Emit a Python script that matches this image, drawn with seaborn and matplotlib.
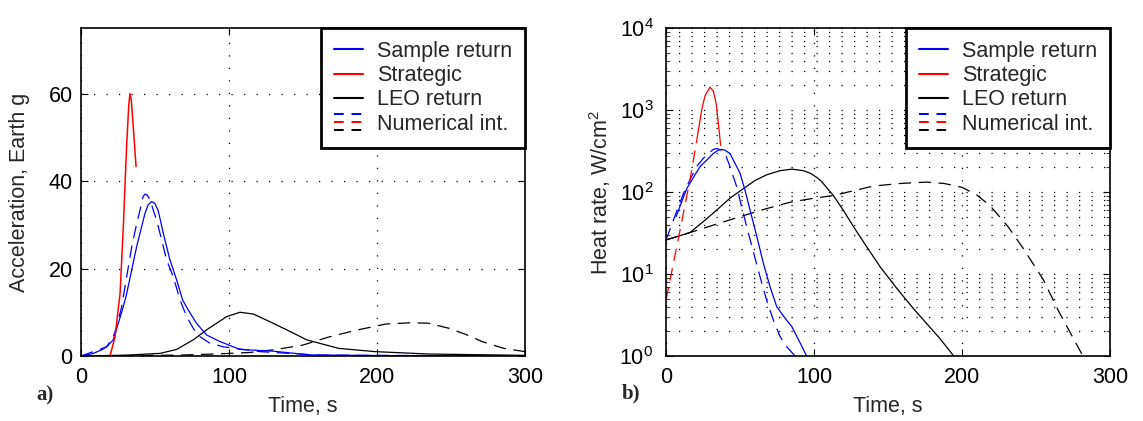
import matplotlib
matplotlib.use('Agg')
import matplotlib.pyplot as plt
from matplotlib.lines import Line2D
from matplotlib.legend_handler import HandlerBase
from matplotlib.ticker import LogLocator, NullFormatter
import seaborn as sns

#%% Data

# a) acceleration, Earth g
acc_sample_t = [0, 8.3, 14, 17.3, 21.8, 25.2, 28.6, 30.9, 34.2, 37.6, 41, 43.2, 45.4, 47.7, 49.9,
                52.2, 55.5, 60, 64.6, 68.7, 72.5, 78, 84.9, 93.9, 107.4, 130, 154.7, 200, 300]
acc_sample_v = [0, 0.6, 1.4, 2.1, 3.7, 7.5, 11.3, 14.3, 19.6, 25, 29.6, 32.6, 34.6, 35.3, 34.9,
                33.2, 28.2, 22.1, 17.4, 12.8, 10.5, 7.5, 4.8, 3.3, 1.5, 1.1, 0.25, 0.1, 0]
acc_sample_num_t = [0, 17.3, 21.8, 24.1, 27.5, 29.7, 32, 34.3, 37.2, 39.9, 42, 43.2, 44.8, 46.6,
                    48.8, 51.1, 54.5, 57.9, 62.4, 66.9, 71.4, 75.9, 80.4, 87.2, 96.2, 121, 160, 300]
acc_sample_num_v = [0, 2.1, 4.4, 6.7, 11.3, 15.8, 20.4, 25, 29.6, 33.4, 36.5, 37.0, 36.8, 35.7,
                    33.4, 31.1, 26.5, 21.9, 18.1, 12.8, 9.0, 6.3, 4.4, 2.9, 2.1, 1.0, 0.2, 0]
acc_strat_t = [19.6, 23, 26.4, 28.6, 30.9, 32.3, 33.1, 34.0, 35.4, 37.2]
acc_strat_v = [0, 4.4, 14.3, 29.6, 48.6, 57.5, 60, 58.5, 52, 43.3]
acc_leo_t = [0, 30.9, 53.4, 64.6, 75.9, 84.9, 91.7, 98.4, 107.4, 116.4, 125.4, 138.9, 152.5,
             174, 198.6, 235, 300]
acc_leo_v = [0, 0.2, 0.6, 1.5, 3.7, 6.0, 7.5, 9.0, 10.0, 9.6, 8.2, 6.0, 3.7,
             1.75, 1.0, 0.45, 0.15]
acc_leo_num_t = [0, 65.7, 90, 114, 132, 150, 167, 186, 205.8, 222.7, 234.7, 249, 261, 271, 285.6, 300]
acc_leo_num_v = [0, 0.2, 0.45, 0.8, 1.5, 2.5, 4.3, 5.9, 7.3, 7.6, 7.5, 6.3, 4.8, 3.3, 1.75, 1.0]

# b) heat rate, W/cm^2
heat_sample_t = [6.8, 10.6, 14, 18.5, 23, 27.5, 32, 35.4, 37.6, 40, 43.2, 46.6, 50, 53.4, 56.8,
                 61.3, 65.8, 70.3, 74.8, 80.4, 84.9, 89.4, 95]
heat_sample_v = [50, 76, 110, 150, 204, 245, 295, 324, 331, 322, 295, 224, 170, 105, 60,
                 29, 13.5, 7, 4.0, 2.9, 2.3, 1.6, 1.0]
heat_sample_num_t = [0, 2.7, 7.2, 11.7, 16.2, 20.7, 25.2, 28.6, 32, 34.2, 37.6, 39.9, 43.2, 47.7,
                     51.1, 54.5, 59, 63.5, 68, 72.5, 77, 81.5, 87.2]
heat_sample_num_v = [26, 35, 58, 95, 141, 204, 257, 295, 331, 339, 324, 295, 204, 117,
                     66, 38, 18.7, 9.3, 4.8, 2.75, 1.74, 1.3, 1.0]
heat_strat_t = [21.8, 24.1, 26.4, 29.7, 32, 33.8, 35.4, 36.9]
heat_strat_v = [550, 1000, 1500, 1900, 1700, 1230, 690, 370]
heat_strat_num_t = [0, 5.5, 11, 16.5, 21.8]
heat_strat_num_v = [4.8, 15, 47, 150, 550]
heat_leo_t = [0, 16.2, 25.2, 34.2, 43.2, 52.3, 60.1, 68, 77, 85, 92.8, 97.3, 101.8, 105, 108.6,
              113, 119.8, 126.6, 135.6, 144.6, 155.9, 167.1, 176, 185, 194.4]
heat_leo_v = [26, 32, 43.6, 60, 84, 110, 138, 162, 182, 190, 182, 170, 151, 135, 113,
              91, 60, 38, 21.5, 12.3, 6.7, 3.8, 2.5, 1.64, 1.0]
heat_leo_num_t = [0, 16.2, 33, 50, 67, 83.8, 100, 114, 127, 140, 158, 176, 188, 200, 210,
                  219, 231, 241, 255, 265, 274, 281.7]
heat_leo_num_v = [26, 32, 40, 50, 62, 75, 84, 91, 104, 118, 127, 132, 127, 114, 92,
                  68, 38, 21, 8.5, 3.6, 1.8, 1.0]

legend_labels = ['Sample return', 'Strategic', 'LEO return', 'Numerical int.']

#%% Style

sns.set_theme(style='ticks')
plt.rcParams['font.family'] = ['Liberation Sans', 'DejaVu Sans']
plt.rcParams['mathtext.fontset'] = 'custom'
plt.rcParams['mathtext.rm'] = 'Liberation Sans'
plt.rcParams['axes.linewidth'] = 1.2
plt.rcParams['axes.edgecolor'] = 'black'

FS = 15.5
BLUE = '#0000ff'
RED = '#ff0000'
BLACK = '#000000'
DASH = (0, (10, 6))
LW = 0.9


class DashTrio(HandlerBase):
    # three stacked dashed lines for the "Numerical int." entry
    def create_artists(self, legend, orig_handle, xdescent, ydescent,
                       width, height, fontsize, trans):
        out = []
        for k, h in enumerate(orig_handle):
            y = height / 2 - ydescent + (1 - k) * 0.37 * fontsize
            ln = Line2D([-xdescent, -xdescent + width], [y, y],
                        color=h.get_color(), lw=1.4, linestyle=(0, (5, 4)))
            ln.set_transform(trans)
            out.append(ln)
        return out


def ax_settings(ax):
    ax.tick_params(direction='in', top=True, right=True, labelsize=FS,
                   colors='black', length=5, width=0.8)
    ax.tick_params(axis='x', pad=8)
    ax.tick_params(axis='y', pad=6)
    for s in ax.spines.values():
        s.set_visible(True)
        s.set_linewidth(1.2)
    ax.set_xlim(0, 300)
    ax.set_xticks([0, 100, 200, 300])
    ax.set_xlabel('Time, s', fontsize=FS)
    ax.xaxis.set_label_coords(0.5, -0.122)


def add_legend(ax):
    handles = [Line2D([0], [0], color=BLUE, lw=1.5),
               Line2D([0], [0], color=RED, lw=1.5),
               Line2D([0], [0], color=BLACK, lw=1.5),
               (Line2D([0], [0], color=BLUE), Line2D([0], [0], color=RED),
                Line2D([0], [0], color=BLACK))]
    leg = ax.legend(handles, legend_labels, loc='upper right', borderaxespad=0,
                    fontsize=FS, frameon=True, fancybox=False, edgecolor='black',
                    framealpha=1, handlelength=1.35, handletextpad=0.65,
                    labelspacing=0.15, borderpad=0.6,
                    handler_map={tuple: DashTrio()})
    leg.get_frame().set_linewidth(2)
    return leg


fig = plt.figure(figsize=(11.43, 4.21), dpi=100)
ax1 = fig.add_axes([81 / 1143, 65 / 421, 444 / 1143, 328 / 421])
ax2 = fig.add_axes([666 / 1143, 65 / 421, 444 / 1143, 328 / 421])

grid_kw = dict(color='black', linestyle=(0, (1, 9)), linewidth=0.9)

#%% a) acceleration

ax_settings(ax1)
ax1.set_ylim(0, 75)
ax1.set_yticks([0, 20, 40, 60])
ax1.grid(True, which='major', **grid_kw)

sns.lineplot(x=acc_leo_num_t, y=acc_leo_num_v, ax=ax1, color=BLACK, lw=LW, linestyle=DASH)
sns.lineplot(x=acc_leo_t, y=acc_leo_v, ax=ax1, color=BLACK, lw=LW)
sns.lineplot(x=acc_sample_num_t, y=acc_sample_num_v, ax=ax1, color=BLUE, lw=LW, linestyle=DASH)
sns.lineplot(x=acc_sample_t, y=acc_sample_v, ax=ax1, color=BLUE, lw=LW)
sns.lineplot(x=acc_strat_t, y=acc_strat_v, ax=ax1, color=RED, lw=LW + 0.2)

ax1.set_ylabel('Acceleration, Earth g', fontsize=FS)
ax1.yaxis.set_label_coords(-0.115, 0.5)
add_legend(ax1)

#%% b) heat rate

ax_settings(ax2)
ax2.set_yscale('log')
ax2.set_ylim(1, 1e4)
ax2.yaxis.set_major_locator(LogLocator(base=10, numticks=10))
ax2.yaxis.set_minor_locator(LogLocator(base=10, subs=range(2, 10), numticks=20))
ax2.yaxis.set_minor_formatter(NullFormatter())
ax2.tick_params(axis='y', which='minor', direction='in', right=True, length=3, width=0.6)
ax2.tick_params(axis='y', pad=9)
ax2.grid(True, which='major', **grid_kw)
ax2.grid(True, which='minor', axis='y', **grid_kw)

sns.lineplot(x=heat_leo_num_t, y=heat_leo_num_v, ax=ax2, color=BLACK, lw=LW, linestyle=DASH)
sns.lineplot(x=heat_leo_t, y=heat_leo_v, ax=ax2, color=BLACK, lw=LW)
sns.lineplot(x=heat_sample_num_t, y=heat_sample_num_v, ax=ax2, color=BLUE, lw=LW, linestyle=DASH)
sns.lineplot(x=heat_sample_t, y=heat_sample_v, ax=ax2, color=BLUE, lw=LW)
sns.lineplot(x=heat_strat_num_t, y=heat_strat_num_v, ax=ax2, color=RED, lw=LW, linestyle=DASH)
sns.lineplot(x=heat_strat_t, y=heat_strat_v, ax=ax2, color=RED, lw=LW)

ax2.set_ylabel(r'Heat rate, W/cm$\mathdefault{^2}$', fontsize=FS)
ax2.yaxis.set_label_coords(-0.12, 0.5)
add_legend(ax2)

#%% panel letters

fig.text(36 / 1143, 1 - 395 / 421, 'a)', fontsize=15, fontweight='bold',
         family='Liberation Serif', va='center')
fig.text(622 / 1143, 1 - 393 / 421, 'b)', fontsize=15, fontweight='bold',
         family='Liberation Serif', va='center')

fig.savefig('out.png', dpi=100)
